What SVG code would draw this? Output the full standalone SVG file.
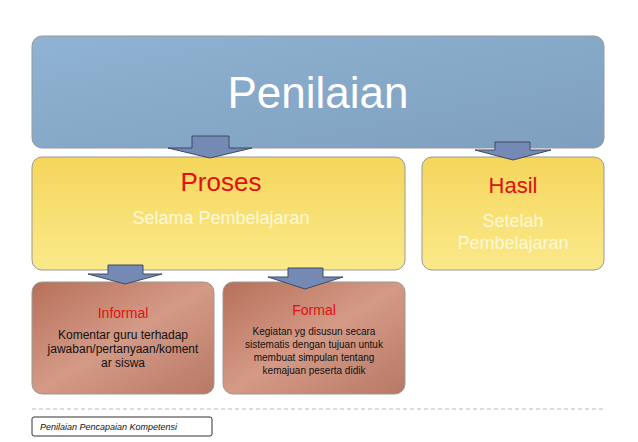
<svg xmlns="http://www.w3.org/2000/svg" width="638" height="442" viewBox="0 0 638 442">
<defs>
<linearGradient id="gb" x1="0" y1="0" x2="1" y2="1"><stop offset="0" stop-color="#8fb3d3"/><stop offset="1" stop-color="#7f9fbe"/></linearGradient>
<linearGradient id="gy" x1="0" y1="0" x2="0" y2="1"><stop offset="0" stop-color="#f5d65c"/><stop offset="1" stop-color="#fae98a"/></linearGradient>
<linearGradient id="gr" x1="0" y1="0" x2="1" y2="1"><stop offset="0" stop-color="#b7705a"/><stop offset="0.5" stop-color="#d49a86"/><stop offset="1" stop-color="#b87866"/></linearGradient>
<style>
text{font-family:"Liberation Sans",Arial,sans-serif;text-anchor:middle}
.bx{stroke:#999;stroke-width:1}
.ar{fill:#7489b3;stroke:#3d4a66;stroke-width:1}
.red{fill:#e01010}
.wh{fill:#fff}
.dk{fill:#111}
</style>
</defs>
<rect width="638" height="442" fill="#fff"/>
<g id="penilaian"><rect class="bx" x="32" y="36" width="572" height="112" rx="10" fill="url(#gb)"/><text x="318" y="108" font-size="44" class="wh">Penilaian</text></g>
<g id="proses"><rect class="bx" x="32" y="157" width="373" height="113" rx="10" fill="url(#gy)"/><text x="221" y="191" font-size="26" class="red">Proses</text><text x="221" y="224" font-size="18" fill="#fff8d8">Selama Pembelajaran</text></g>
<g id="hasil"><rect class="bx" x="422" y="157" width="182" height="113" rx="10" fill="url(#gy)"/><text x="513" y="193" font-size="22" class="red">Hasil</text><text x="513" y="227" font-size="18" fill="#fff8d8">Setelah</text><text x="513" y="249" font-size="18" fill="#fff8d8">Pembelajaran</text></g>
<g id="informal"><rect class="bx" x="32" y="282" width="182" height="112" rx="10" fill="url(#gr)"/><text x="123" y="318" font-size="14" class="red">Informal</text><text x="123" y="339" font-size="12" class="dk">Komentar  guru terhadap</text><text x="123" y="353" font-size="12" class="dk">jawaban/pertanyaan/koment</text><text x="123" y="367" font-size="12" class="dk">ar siswa</text></g>
<g id="formal"><rect class="bx" x="223" y="282" width="182" height="112" rx="10" fill="url(#gr)"/><text x="314" y="315" font-size="14" class="red">Formal</text><text x="314" y="335" font-size="10" class="dk">Kegiatan yg disusun secara</text><text x="314" y="348" font-size="10" class="dk">sistematis  dengan tujuan untuk</text><text x="314" y="361" font-size="10" class="dk">membuat simpulan tentang</text><text x="314" y="374" font-size="10" class="dk">kemajuan peserta didik</text></g>
<g id="connectors">
<path class="ar" d="M192,136H229V148H252L210,158L168,148H192Z"/>
<path class="ar" d="M495,142H530V150H551L513,160L475,150H495Z"/>
<path class="ar" d="M108,265H143V274H162L125,284L88,274H108Z"/>
<path class="ar" d="M288,268H323V277H343L305,289L268,277H288Z"/>
</g>
<line x1="32" y1="409" x2="604" y2="409" stroke="#bbb" stroke-dasharray="4,3"/>
<g id="footer"><rect x="32" y="417" width="180" height="19" rx="2" fill="#fff" stroke="#333"/><text x="40" y="430" font-size="9" font-style="italic" style="text-anchor:start" class="dk">Penilaian Pencapaian Kompetensi</text></g>
</svg>
